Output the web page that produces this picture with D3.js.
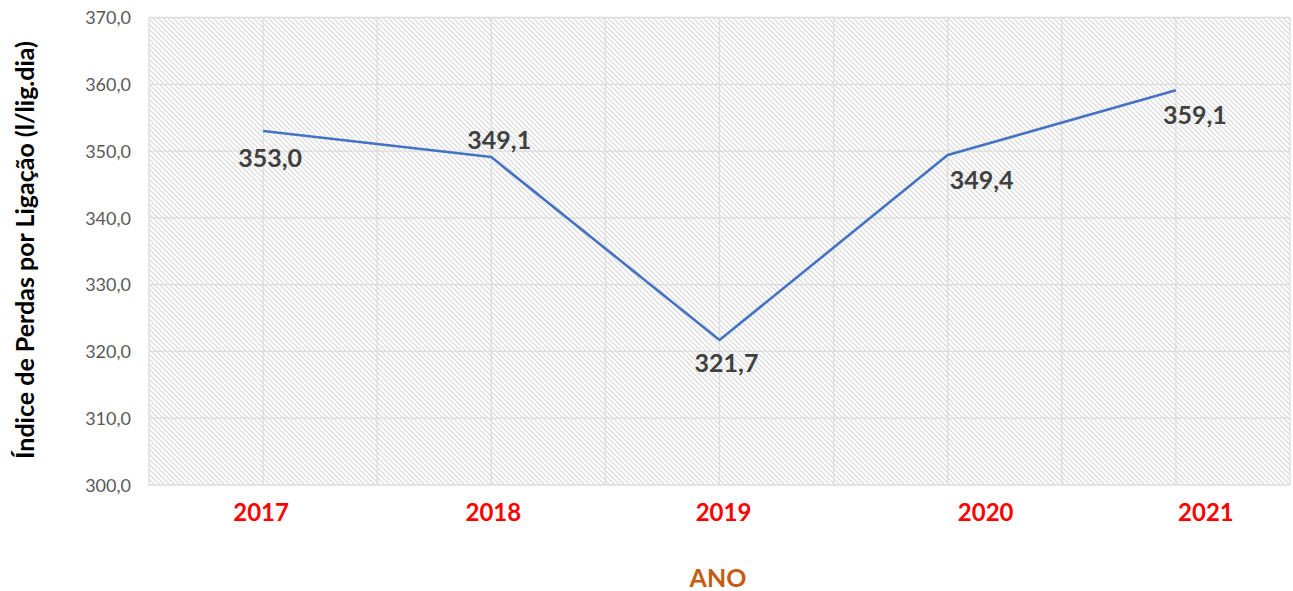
<!DOCTYPE html>
<html><head><meta charset="utf-8">
<script src="https://cdn.jsdelivr.net/npm/d3@7"></script>
<style>html,body{margin:0;padding:0;background:#fff;}svg{display:block;}</style>
</head><body>
<script>
const years = ["2017","2018","2019","2020","2021"];
const values = [353.0, 349.1, 321.7, 349.4, 359.1];
const valueLabels = ["353,0","349,1","321,7","349,4","359,1"];
const yTicks = [300,310,320,330,340,350,360,370];
const yTitle = "Índice de Perdas por Ligação (l/lig.dia)";
const xTitle = "ANO";
// label offsets (layout, px) relative to each point
const labelOffsets = [[7,36],[8,-8],[7,32],[34,34],[19,34]];
// x tick label horizontal shifts (layout, px)
const xLabelShift = [-2,2,4,38,30];

const W = 1293, H = 591;
const m = {left:149, right:1290, top:17.5, bottom:485};
const svg = d3.select("body").append("svg").attr("width",W).attr("height",H);
const defs = svg.append("defs");
const pat = defs.append("pattern").attr("id","hatch").attr("patternUnits","userSpaceOnUse")
  .attr("width",5).attr("height",5);
pat.append("rect").attr("width",5).attr("height",5).attr("fill","#fff");
pat.append("path").attr("d","M0,0 L5,5 M-1,4 L1,6 M4,-1 L6,1")
  .attr("stroke","#d6d6d6").attr("stroke-width",1.1);

const x = d3.scaleBand().domain(years).range([m.left,m.right]);
const y = d3.scaleLinear().domain([300,370]).range([m.bottom,m.top]);

svg.append("rect").attr("x",m.left).attr("y",m.top).attr("width",m.right-m.left)
  .attr("height",m.bottom-m.top).attr("fill","url(#hatch)");

// gridlines
const g = svg.append("g");
g.selectAll("line.h").data(yTicks).join("line")
  .attr("x1",m.left).attr("x2",m.right).attr("y1",d=>y(d)).attr("y2",d=>y(d))
  .attr("stroke","#dcdcdc").attr("stroke-width",1.3);
const vx = [];
years.forEach(d=>{vx.push(x(d)); vx.push(x(d)+x.bandwidth()/2);});
vx.push(m.right);
g.selectAll("line.v").data(vx).join("line")
  .attr("x1",d=>d).attr("x2",d=>d).attr("y1",m.top).attr("y2",m.bottom)
  .attr("stroke","#dcdcdc").attr("stroke-width",1.3);

// y axis
const yAxis = d3.axisLeft(y).tickValues(yTicks).tickSize(0).tickPadding(0)
  .tickFormat(d=>d3.format(".1f")(d).replace(".",","));
const ya = svg.append("g").attr("transform",`translate(131,0)`).call(yAxis);
ya.select(".domain").remove();
ya.selectAll("text").attr("font-family","Lato").attr("font-size",18)
  .attr("fill","#595959").attr("dy","0.35em");

// x axis
const xAxis = d3.axisBottom(x).tickSize(0).tickPadding(0);
const xa = svg.append("g").attr("transform",`translate(0,521)`).call(xAxis);
xa.select(".domain").remove();
xa.selectAll("text").attr("font-family","Lato").attr("font-size",24)
  .attr("font-weight","bold").attr("fill","#ff0000").attr("dy",0)
  .attr("dx",(d,i)=>xLabelShift[i]);

// line
const cx = d=>x(d)+x.bandwidth()/2;
const line = d3.line().x((d,i)=>cx(years[i])).y(d=>y(d));
svg.append("path").datum(values).attr("d",line).attr("fill","none")
  .attr("stroke","#4472c4").attr("stroke-width",2.6).attr("stroke-linejoin","round");

// data labels
svg.selectAll("text.lbl").data(values).join("text")
  .attr("x",(d,i)=>cx(years[i])+labelOffsets[i][0])
  .attr("y",(d,i)=>y(d)+labelOffsets[i][1])
  .attr("text-anchor","middle").attr("font-family","Lato").attr("font-size",25)
  .attr("font-weight","bold").attr("fill","#404040")
  .text((d,i)=>valueLabels[i]);

// titles
svg.append("text").attr("x",718).attr("y",587).attr("text-anchor","middle")
  .attr("font-family","Lato").attr("font-size",25).attr("font-weight","bold")
  .attr("fill","#c55a11").text(xTitle);
svg.append("text").attr("transform","translate(34,250) rotate(-90)")
  .attr("text-anchor","middle").attr("font-family","Lato").attr("font-size",25)
  .attr("font-weight","bold").attr("fill","#000").text(yTitle);
</script>
</body></html>
